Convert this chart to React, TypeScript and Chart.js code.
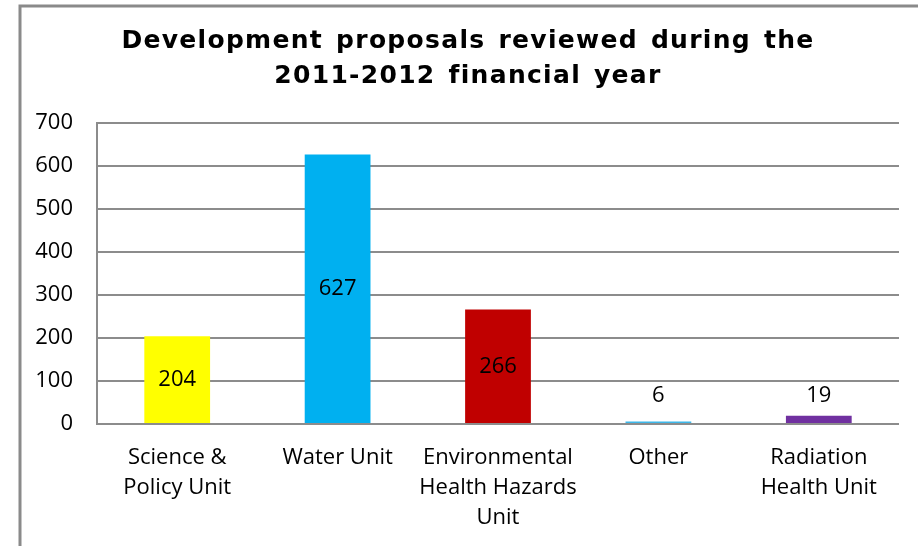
import React, { useEffect, useRef } from "react";
import { Chart, registerables } from "chart.js";

Chart.register(...registerables);

const categories: string[][] = [
  ["Science &", "Policy Unit"],
  ["Water Unit"],
  ["Environmental", "Health Hazards", "Unit"],
  ["Other"],
  ["Radiation", "Health Unit"],
];
const values: number[] = [204, 627, 266, 6, 19];
const barColors: string[] = ["#FFFF00", "#00B0F0", "#C00000", "#3DB7E9", "#7030A0"];
const titleLines: string[] = ["Development proposals reviewed during the", "2011-2012 financial year"];
const yMin = 0;
const yMax = 700;
const yStep = 100;

const LABEL_FONT = "'Open Sans', sans-serif";

const framePlugin = {
  id: "frame",
  beforeDraw(chart: any) {
    const ctx = chart.ctx;
    ctx.save();
    ctx.fillStyle = "#ffffff";
    ctx.fillRect(0, 0, chart.width, chart.height);
    ctx.strokeStyle = "#8a8a8a";
    ctx.lineWidth = 3;
    ctx.beginPath();
    ctx.moveTo(20, chart.height);
    ctx.lineTo(20, 6);
    ctx.lineTo(chart.width, 6);
    ctx.stroke();
    ctx.restore();
  },
  afterDraw(chart: any) {
    const ctx = chart.ctx;
    ctx.save();
    ctx.fillStyle = "#000";
    ctx.font = "bold 25px 'DejaVu Sans', Verdana, sans-serif";
    ctx.textAlign = "center";
    ctx.textBaseline = "alphabetic";
    try {
      (ctx as any).letterSpacing = "1.3px";
      (ctx as any).wordSpacing = "3px";
    } catch (e) {}
    ctx.fillText(titleLines[0], 468, 48);
    ctx.fillText(titleLines[1], 468, 83);
    ctx.restore();
  },
};

const dataLabelPlugin = {
  id: "barLabels",
  afterDatasetsDraw(chart: any) {
    const ctx = chart.ctx;
    const meta = chart.getDatasetMeta(0);
    const zeroY = chart.scales.y.getPixelForValue(0);
    ctx.save();
    ctx.fillStyle = "#000";
    ctx.font = "22px " + LABEL_FONT;
    ctx.textAlign = "center";
    ctx.textBaseline = "middle";
    meta.data.forEach((bar: any, i: number) => {
      const center = (bar.y + zeroY) / 2;
      const y = Math.min(center, zeroY - 28);
      ctx.fillText(String(values[i]), bar.x, y);
    });
    ctx.restore();
  },
};

export default function App() {
  const ref = useRef<HTMLCanvasElement>(null);
  useEffect(() => {
    if (!ref.current) return;
    const chart = new Chart(ref.current, {
      type: "bar",
      data: {
        labels: categories,
        datasets: [
          {
            data: values,
            backgroundColor: barColors,
            borderWidth: 0,
            categoryPercentage: 1,
            barPercentage: 0.41,
          },
        ],
      },
      options: {
        animation: false,
        responsive: true,
        maintainAspectRatio: false,
        layout: { padding: { top: 123, right: 19, left: 0, bottom: 0 } },
        plugins: {
          legend: { display: false },
          tooltip: { enabled: false },
          title: { display: false },
        },
        scales: {
          x: {
            grid: { display: false },
            border: { display: false },
            ticks: {
              color: "#000",
              font: { family: LABEL_FONT, size: 22, lineHeight: 1.36 },
              padding: 11,
              maxRotation: 0,
              autoSkip: false,
            },
            afterFit(scale: any) {
              scale.height = 122;
            },
          },
          y: {
            min: yMin,
            max: yMax,
            grid: { color: "#8c8c8c", lineWidth: 2, drawTicks: false },
            border: { display: true, color: "#8c8c8c", width: 2 },
            ticks: {
              stepSize: yStep,
              color: "#000",
              font: { family: LABEL_FONT, size: 22 },
              padding: 24,
            },
            afterFit(scale: any) {
              scale.width = 97;
            },
          },
        },
      },
      plugins: [framePlugin, dataLabelPlugin],
    });
    return () => chart.destroy();
  }, []);
  return (
    <div style={{ position: "fixed", left: 0, top: 0, width: 918, height: 546 }}>
      <canvas ref={ref} />
    </div>
  );
}
